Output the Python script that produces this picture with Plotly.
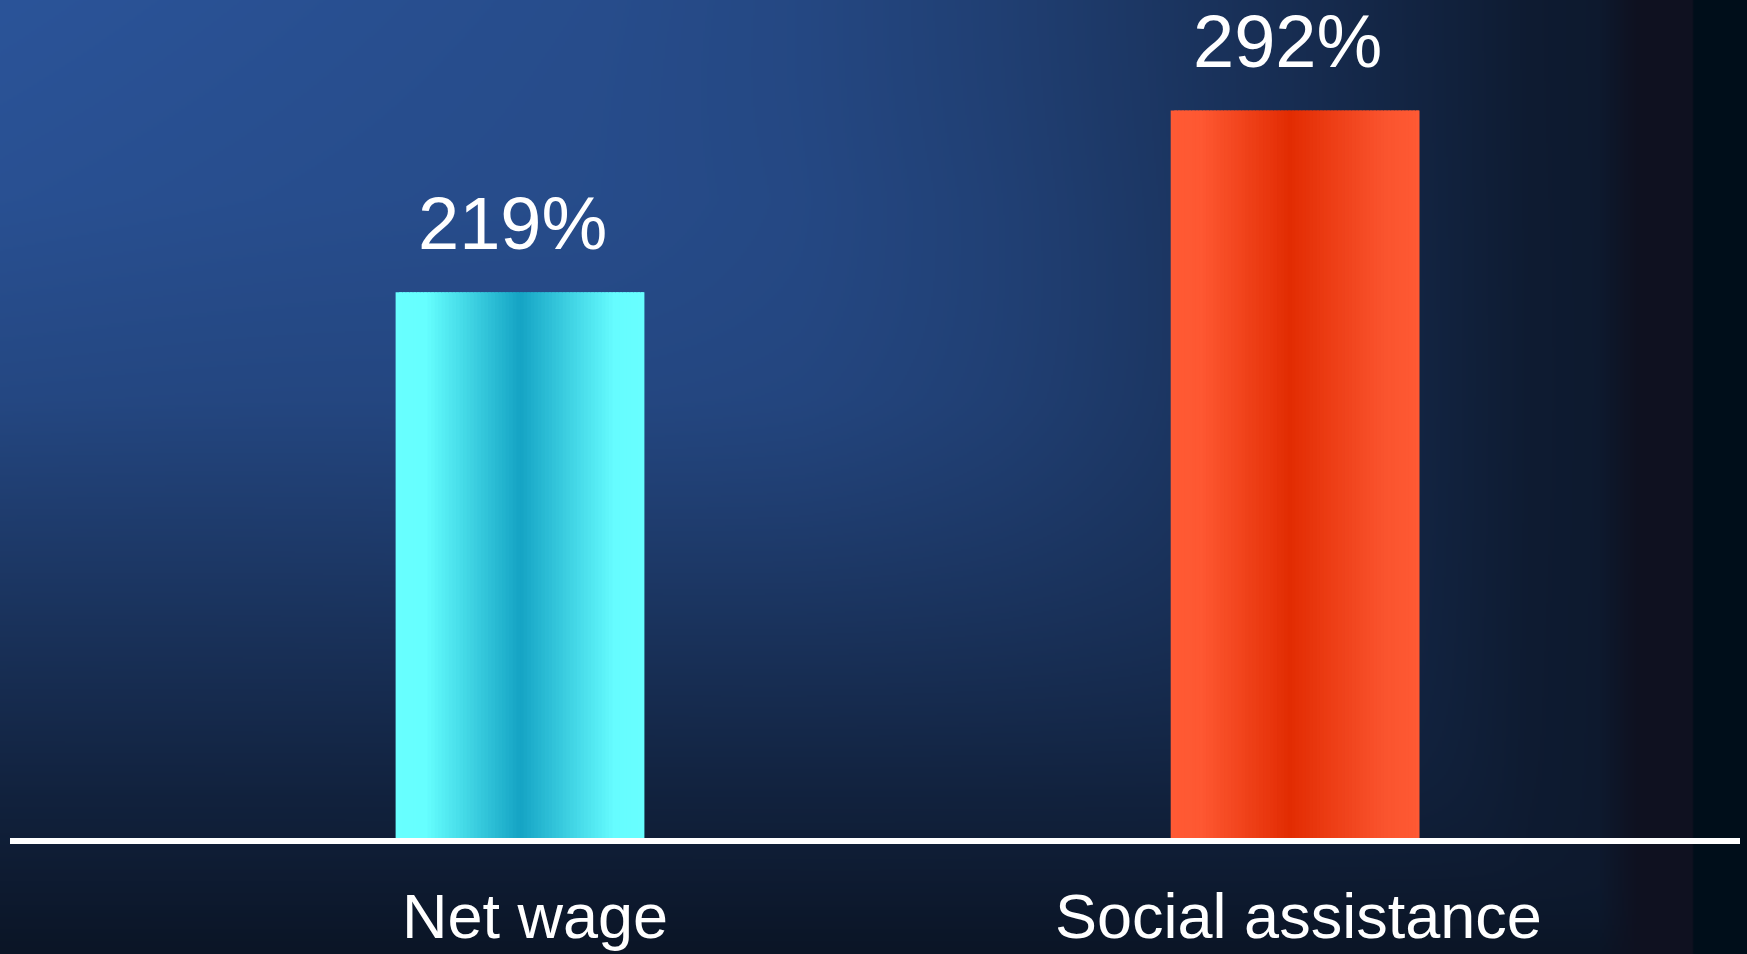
import base64
import struct
import zlib

import numpy as np
import plotly.graph_objects as go

# ---------------- data ----------------
categories = ["Net wage", "Social assistance"]
values = [219, 292]
value_labels = ["219%", "292%"]

# ---------------- styles ----------------
FONT = "Liberation Sans, Arial, Helvetica, sans-serif"
W_PX, H_PX = 1747, 954
M_L, M_R, M_T, M_B = 10, 7, 0, 116
BAR_WIDTH = 0.321
X_RANGE = [-0.658, 1.574]
Y_RANGE = [0, 336.3]
CAT_LABEL_XSHIFT = [15, 3]

# horizontal gradient stops across each bar (fraction, rgb)
cyan_stops = [(0.0, (104, 255, 255)), (0.12, (102, 255, 255)), (0.5, (20, 163, 196)),
              (0.88, (102, 252, 255)), (1.0, (104, 255, 255))]
orange_stops = [(0.0, (255, 90, 52)), (0.12, (254, 88, 50)), (0.48, (226, 44, 2)),
                (0.86, (250, 84, 46)), (1.0, (255, 90, 52))]
bar_stops = [cyan_stops, orange_stops]


def grad_color(stops, t):
    ts = [s[0] for s in stops]
    rgb = [int(round(np.interp(t, ts, [s[1][k] for s in stops]))) for k in range(3)]
    return "rgb(%d,%d,%d)" % tuple(rgb)


# ---------------- background image (decorative gradient) ----------------
def make_png(arr):
    h, w, _ = arr.shape
    raw = b"".join(b"\x00" + arr[r].tobytes() for r in range(h))

    def chunk(tag, data):
        c = struct.pack(">I", len(data)) + tag + data
        return c + struct.pack(">I", zlib.crc32(tag + data) & 0xFFFFFFFF)

    return (b"\x89PNG\r\n\x1a\n"
            + chunk(b"IHDR", struct.pack(">IIBBBBB", w, h, 8, 2, 0, 0, 0))
            + chunk(b"IDAT", zlib.compress(raw, 9))
            + chunk(b"IEND", b""))


BW, BH = 874, 477
xs = (np.arange(BW) + 0.5) * W_PX / BW
ys = (np.arange(BH) + 0.5) * H_PX / BH
light = np.array([43, 84, 153], float)
dark = np.array([11, 21, 38], float)
sx = np.interp(xs, [0, 600, 800, 1000, 1150, 1300, 1450, 1530, 1747],
               [1, 0.88, 0.8, 0.66, 0.53, 0.37, 0.2, 0.1, 0.02])
sy = np.interp(ys, [0, 200, 400, 600, 800, 840, 954],
               [1, 0.94, 0.8, 0.5, 0.2, 0.15, 0.0])
p = 3.0
SX = np.clip(sx[None, :], 1e-3, 1)
SY = np.clip(sy[:, None], 1e-3, 1)
s = np.clip((SX ** -p + SY ** -p - 1.0) ** (-1.0 / p), 0, 1)
# soft glow in the middle of the slide
gx, gy = np.meshgrid(xs, ys)
glow = np.exp(-(((gx - 850) / 420.0) ** 2 + ((gy - 380) / 260.0) ** 2))
s = np.clip(s + 0.07 * glow, 0, 1)
img = dark + (light - dark) * s[..., None]
purple = np.array([15, 17, 32], float)
r = np.clip((xs - 1600) / 40.0, 0, 1)[None, :, None]
img = img * (1 - r) + purple * r
img[:, xs >= 1693, :] = np.array([0, 14, 26], float)
bg_uri = "data:image/png;base64," + base64.b64encode(
    make_png(np.clip(img, 0, 255).astype(np.uint8))).decode()

# ---------------- figure ----------------
fig = go.Figure()

N = 70
step = BAR_WIDTH / N
for i in range(N):
    t = (i + 0.5) / N
    fig.add_trace(go.Bar(
        x=categories,
        y=values,
        width=step * 1.8 if i < N - 1 else step,
        offset=-BAR_WIDTH / 2 + i * step,
        marker=dict(color=[grad_color(st, t) for st in bar_stops], line=dict(width=0)),
        hoverinfo="skip",
        showlegend=False,
    ))

for cat, val, lab in zip(categories, values, value_labels):
    fig.add_annotation(x=cat, y=val, text=lab, showarrow=False,
                       yanchor="bottom", xanchor="center", yshift=25, xshift=-8,
                       font=dict(family=FONT, size=74, color="white"))

for cat, dx in zip(categories, CAT_LABEL_XSHIFT):
    fig.add_annotation(x=cat, y=0, text=cat, showarrow=False,
                       yanchor="bottom", xanchor="center", yshift=-115, xshift=dx,
                       font=dict(family=FONT, size=63, color="white"))

plot_w = W_PX - M_L - M_R
plot_h = H_PX - M_T - M_B
fig.add_layout_image(dict(
    source=bg_uri, xref="paper", yref="paper",
    x=-M_L / plot_w, y=1 + M_T / plot_h,
    sizex=W_PX / plot_w, sizey=H_PX / plot_h,
    xanchor="left", yanchor="top", sizing="stretch", layer="below",
))

fig.update_layout(
    width=W_PX, height=H_PX,
    margin=dict(l=M_L, r=M_R, t=M_T, b=M_B, pad=0, autoexpand=False),
    barmode="overlay",
    paper_bgcolor="#0b1526",
    plot_bgcolor="rgba(0,0,0,0)",
    showlegend=False,
    xaxis=dict(type="category", range=X_RANGE, showgrid=False, zeroline=False,
               showline=True, linecolor="white", linewidth=6, ticks="",
               showticklabels=False, automargin=False, fixedrange=True),
    yaxis=dict(range=Y_RANGE, visible=False, showgrid=False, zeroline=False,
               automargin=False, fixedrange=True),
)

fig.write_html("out.html", config={"displayModeBar": False})
